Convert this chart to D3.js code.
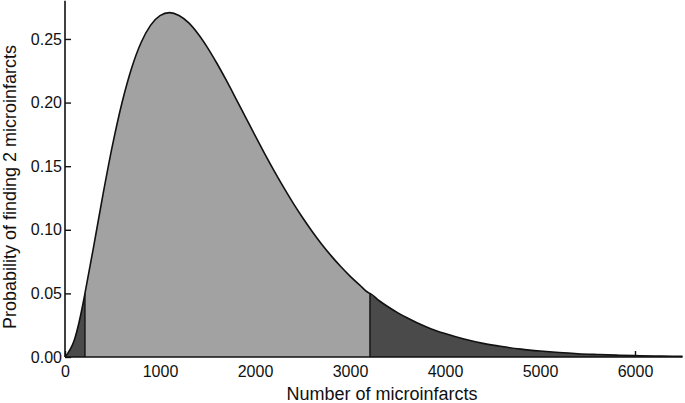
<!DOCTYPE html>
<html>
<head>
<meta charset="utf-8">
<script src="https://cdn.jsdelivr.net/npm/d3@7"></script>
<style>
  body { margin: 0; background: #fff; }
  svg text { font-family: "Liberation Sans", Arial, sans-serif; fill: #111; }
</style>
</head>
<body>
<svg id="chart" width="685" height="403"></svg>
<script>
// number of microinfarcts (x) and probability (y)
var counts = [0,100,200,210,300,400,500,600,700,800,900,1000,1100,1200,1300,1400,1500,1600,1700,1800,1900,2000,
  2100,2200,2300,2400,2500,2600,2700,2800,2900,3000,3100,3200,3210,3300,3400,3500,3600,3700,3800,3900,4000,
  4200,4400,4600,4800,5000,5200,5400,5600,5800,6000,6200,6400,6500]
var probs = [0,0.0138,0.0460,0.0500,0.0862,0.1278,0.1665,0.1999,0.2268,0.2470,0.2607,0.2683,0.2707,0.2685,0.2628,0.2541,0.2432,0.2307,0.2172,0.2030,0.1886,0.1742,
  0.1601,0.1465,0.1335,0.1212,0.1097,0.0989,0.0889,0.0797,0.0713,0.0636,0.0567,0.0503,0.0500,0.0446,0.0395,0.0349,0.0308,0.0271,0.0238,0.0209,0.0184,
  0.0141,0.0107,0.0082,0.0062,0.0047,0.0035,0.0026,0.0020,0.0015,0.0011,0.0008,0.0006,0.0005]
// cut-offs where the probability drops under 0.05
var cutoffs = [210, 3210]
var xTicks = [0,1000,2000,3000,4000,5000,6000]
var yTicks = [0,0.05,0.10,0.15,0.20,0.25]

var data = counts.map((c,i) => ({n:c, p:probs[i]}))

var svg = d3.select("#chart")
var x = d3.scaleLinear().domain([0,6500]).range([65,682.5])
var y = d3.scaleLinear().domain([0,0.28]).range([357,0.8])

// axes first (ticks point inward, hidden under the fill)
var gx = svg.append("g").attr("transform","translate(0,"+y(0)+")")
  .call(d3.axisBottom(x).tickValues(xTicks).tickSize(-6).tickPadding(4).tickFormat(d3.format("d")))
var gy = svg.append("g").attr("transform","translate("+x(0)+",0)")
  .call(d3.axisLeft(y).tickValues(yTicks).tickSize(-6).tickPadding(3).tickFormat(d3.format(".2f")))
;[gx,gy].forEach(g => {
  g.select(".domain").remove()
  g.selectAll(".tick line").attr("stroke","#111").attr("stroke-width",1.4)
  g.selectAll(".tick text").style("font-size","16px").attr("fill","#111")
})
gx.selectAll(".tick text").attr("y",20).attr("dy",0)

var curve = d3.curveMonotoneX
var area = d3.area().curve(curve).x(d => x(d.n)).y0(y(0)).y1(d => y(d.p))
var line = d3.line().curve(curve).x(d => x(d.n)).y(d => y(d.p))

var left = data.filter(d => d.n <= cutoffs[0])
var mid = data.filter(d => d.n >= cutoffs[0] && d.n <= cutoffs[1])
var right = data.filter(d => d.n >= cutoffs[1])

svg.append("path").datum(left).attr("d",area).attr("fill","#4a4a4a")
svg.append("path").datum(mid).attr("d",area).attr("fill","#a2a2a2")
svg.append("path").datum(right).attr("d",area).attr("fill","#4a4a4a")

cutoffs.forEach(c => {
  var pt = data.find(d => d.n == c)
  svg.append("line").attr("x1",x(c)).attr("x2",x(c)).attr("y1",y(0)).attr("y2",y(pt.p))
    .attr("stroke","#111").attr("stroke-width",1.4)
})

svg.append("path").datum(data).attr("d",line)
  .attr("fill","none").attr("stroke","#111").attr("stroke-width",1.6)

// axis lines on top
svg.append("line").attr("x1",x(0)).attr("x2",x(6500)).attr("y1",y(0)).attr("y2",y(0))
  .attr("stroke","#111").attr("stroke-width",1.6)
svg.append("line").attr("x1",x(0)).attr("x2",x(0)).attr("y1",y(0)).attr("y2",y(0.28))
  .attr("stroke","#111").attr("stroke-width",1.6)

svg.append("text").attr("x",382).attr("y",400).attr("text-anchor","middle")
  .style("font-size","18px").text("Number of microinfarcts")
svg.append("text").attr("transform","translate(15.5,187) rotate(-90)").attr("text-anchor","middle")
  .style("font-size","18px").text("Probability of finding 2 microinfarcts")
</script>
</body>
</html>
